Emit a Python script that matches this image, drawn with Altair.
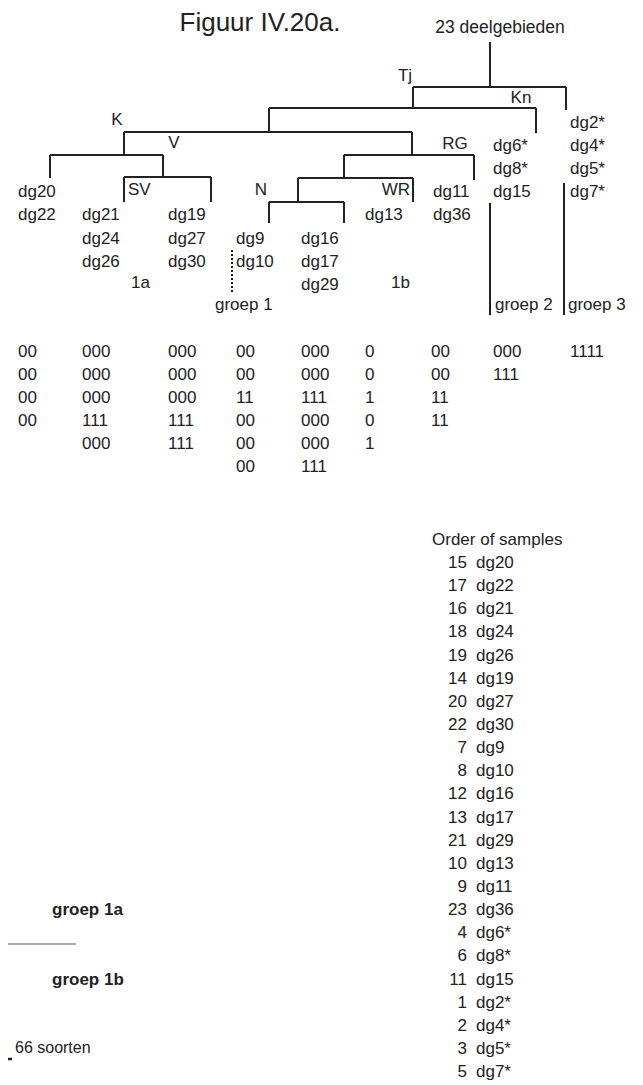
import altair as alt
import pandas as pd

# ---------------- data ----------------
title = "Figuur IV.20a."
root_label = "23 deelgebieden"

leaf_groups = [
    ["dg20", "dg22"],
    ["dg21", "dg24", "dg26"],
    ["dg19", "dg27", "dg30"],
    ["dg9", "dg10"],
    ["dg16", "dg17", "dg29"],
    ["dg13"],
    ["dg11", "dg36"],
    ["dg6*", "dg8*", "dg15"],
    ["dg2*", "dg4*", "dg5*", "dg7*"],
]

code_groups = [
    ["00", "00", "00", "00"],
    ["000", "000", "000", "111", "000"],
    ["000", "000", "000", "111", "111"],
    ["00", "00", "11", "00", "00", "00"],
    ["000", "000", "111", "000", "000", "111"],
    ["0", "0", "1", "0", "1"],
    ["00", "00", "11", "11"],
    ["000", "111"],
    ["1111"],
]

order_header = "Order of samples"
order_nums = [15, 17, 16, 18, 19, 14, 20, 22, 7, 8, 12, 13, 21, 10, 9, 23, 4, 6, 11, 1, 2, 3, 5]
order_names = ["dg20", "dg22", "dg21", "dg24", "dg26", "dg19", "dg27", "dg30", "dg9", "dg10",
               "dg16", "dg17", "dg29", "dg13", "dg11", "dg36", "dg6*", "dg8*", "dg15",
               "dg2*", "dg4*", "dg5*", "dg7*"]

cluster_labels = ["Tj", "Kn", "K", "V", "RG", "N"]
side_labels = ["SV", "1a", "1b", "groep 1", "groep 2", "groep 3"]
legend_bold = ["groep 1a", "groep 1b"]
scale_label = "66 soorten"

# ---------------- layout (page units) ----------------
leaf_col_x = [18, 82, 168, 236, 301, 365, 433, 493, 570]
leaf_first_row = [3, 4, 4, 5, 5, 4, 3, 1, 0]
row_y0, row_dy = 123, 23.1
code_col_x = [18, 82, 168, 236, 301, 365, 431, 493, 570]
code_y0, code_dy = 352, 23.0
order_y0, order_dy = 563, 23.14

# dendrogram nodes: name -> (x, merge_y or leaf bottom, children)
nodes = {
    "root": (490, 87, ["Tj", "G3"]),
    "G3": (566, 110, []),
    "Tj": (413, 108, ["K", "G2"]),
    "G2": (536, 133, []),
    "K": (269, 132, ["V", "R"]),
    "V": (124, 155, ["L1", "SV"]),
    "L1": (50, 178, []),
    "SV": (163, 177, ["SVa", "SVb"]),
    "SVa": (124, 202, []),
    "SVb": (211, 202, []),
    "R": (412, 155, ["NW", "RG"]),
    "RG": (474, 180, []),
    "NW": (344, 178, ["N", "WR"]),
    "N": (298, 202, ["Na", "Nb"]),
    "Na": (269, 223, []),
    "Nb": (344, 223, []),
    "WR": (413, 202, []),
}
root_top = 42

segs = [dict(x=490, y=root_top, x2=490, y2=87)]
for name, (nx, ny, ch) in nodes.items():
    if ch:
        xs = [nodes[c][0] for c in ch]
        segs.append(dict(x=min(xs), y=ny, x2=max(xs), y2=ny))
        for c in ch:
            cx, cy, _ = nodes[c]
            segs.append(dict(x=cx, y=ny, x2=cx, y2=cy))
# group bars
segs.append(dict(x=490, y=203, x2=490, y2=315))
segs.append(dict(x=564, y=183, x2=564, y2=315))
seg_df = pd.DataFrame(segs)

dotted_df = pd.DataFrame([dict(x=232, y=250, x2=232, y2=294)])
thin_df = pd.DataFrame([dict(x=8, y=944, x2=76, y2=944)])
dash_df = pd.DataFrame([dict(x=8, y=1059, x2=12, y2=1059)])

# text tables
left_rows, center_rows, right_rows, bold_rows = [], [], [], []
for gi, grp in enumerate(leaf_groups):
    for ri, t in enumerate(grp):
        left_rows.append(dict(x=leaf_col_x[gi], y=row_y0 + row_dy * (leaf_first_row[gi] + ri), t=t))
for gi, grp in enumerate(code_groups):
    for ri, t in enumerate(grp):
        left_rows.append(dict(x=code_col_x[gi], y=code_y0 + code_dy * ri, t=t))
for i, (n, nm) in enumerate(zip(order_nums, order_names)):
    right_rows.append(dict(x=467, y=order_y0 + order_dy * i, t=str(n)))
    left_rows.append(dict(x=476, y=order_y0 + order_dy * i, t=nm))
left_rows.append(dict(x=432, y=540, t=order_header))
side_pos = [(128, 190), (131, 283), (391, 283), (215, 305), (495, 305), (568, 305)]
for t, (x, y) in zip(side_labels, side_pos):
    left_rows.append(dict(x=x, y=y, t=t))
right_rows.append(dict(x=410, y=190, t="WR"))
cl_pos = [(405, 76), (521, 98), (117, 120), (174, 143), (455, 144), (261, 190)]
for t, (x, y) in zip(cluster_labels, cl_pos):
    center_rows.append(dict(x=x, y=y, t=t))
for t, y in zip(legend_bold, [910, 980]):
    bold_rows.append(dict(x=52, y=y, t=t))

W, H = 627, 1077
X = lambda f="x": alt.X(f"{f}:Q", scale=alt.Scale(domain=[8, 8 + W]), axis=None)
Y = lambda f="y": alt.Y(f"{f}:Q", scale=alt.Scale(domain=[8, 8 + H], reverse=True), axis=None)

FONT = "Liberation Sans"
COL = "#222222"

def rules(df, color=COL, **kw):
    return alt.Chart(df).mark_rule(color=color, **kw).encode(
        x=X("x"), y=Y("y"), x2="x2:Q", y2="y2:Q")

def texts(rows, align, size=17, weight="normal"):
    return alt.Chart(pd.DataFrame(rows)).mark_text(
        align=align, baseline="middle", font=FONT, fontSize=size,
        fontWeight=weight, color=COL).encode(x=X("x"), y=Y("y"), text="t:N")

layers = [
    rules(seg_df, strokeWidth=2),
    rules(dotted_df, strokeWidth=2, strokeDash=[2, 2]),
    rules(thin_df, color="#555555", strokeWidth=1),
    rules(dash_df, strokeWidth=2.5),
    texts(left_rows, "left"),
    texts(center_rows, "center"),
    texts(right_rows, "right"),
    texts(bold_rows, "left", weight="bold"),
    texts([dict(x=500, y=28, t=root_label)], "center", size=17.5),
    texts([dict(x=260, y=23, t=title)], "center", size=26),
    texts([dict(x=15, y=1048, t=scale_label)], "left", size=16),
]

chart = alt.layer(*layers).properties(
    width=W, height=H, padding=0, autosize=alt.AutoSizeParams(type="none")
).configure_view(stroke=None)

chart.save("out.html", embed_options={"renderer": "svg", "actions": False})
